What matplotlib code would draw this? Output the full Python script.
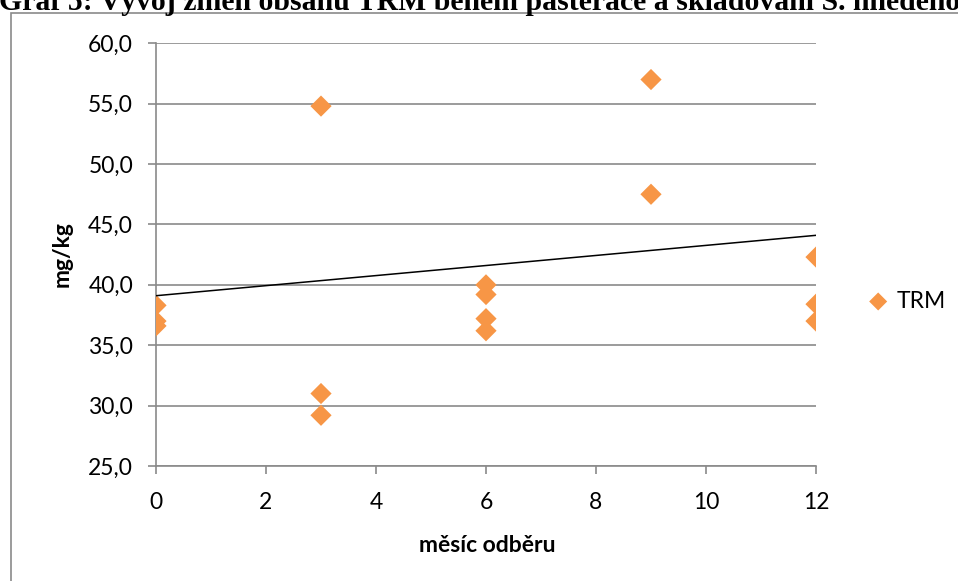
import matplotlib
matplotlib.use("Agg")
import matplotlib.pyplot as plt
from matplotlib.patches import Rectangle
from matplotlib.ticker import FuncFormatter

# ── Data ──────────────────────────────────────────────────────────────────
months = [0, 0, 0, 3, 3, 3, 6, 6, 6, 6, 9, 9, 12, 12, 12]
trm = [38.3, 37.0, 36.6, 54.8, 31.0, 29.2, 40.0, 39.2, 37.2, 36.2,
       57.0, 47.5, 42.3, 38.4, 37.0]
trend_x = [0, 12]
trend_y = [39.1, 44.1]

TITLE = "Graf 5: Vývoj změn obsahu TRM během pasterace a skladování S. hnědého"
ORANGE = "#F79646"
GRID = "#8A8A8A"

plt.rcParams["font.family"] = ["Lato", "DejaVu Sans"]

W, H = 958, 581
fig = plt.figure(figsize=(W / 100, H / 100), dpi=100)
ax = fig.add_axes([156 / W, 1 - 466 / H, 660 / W, (466 - 43.3) / H])

ax.scatter(months, trm, marker="D", s=10.8 ** 2, color=ORANGE,
           edgecolors="none", zorder=3, label="TRM")
ax.plot(trend_x, trend_y, color="black", lw=1.1, zorder=4)

ax.set_xlim(0, 12)
ax.set_ylim(25, 60)
ax.set_xticks(range(0, 13, 2))
ax.set_yticks(range(25, 61, 5))
ax.yaxis.set_major_formatter(FuncFormatter(lambda v, p: f"{v:.1f}".replace(".", ",")))
ax.tick_params(labelsize=16.5, color=GRID, length=5.5, width=1.2)
ax.tick_params(axis="y", pad=11)
ax.tick_params(axis="x", pad=13)

ax.grid(axis="y", color=GRID, lw=1.2, zorder=0)
for side in ("top", "right"):
    ax.spines[side].set_visible(False)
for side in ("left", "bottom"):
    ax.spines[side].set_color(GRID)
    ax.spines[side].set_linewidth(1.2)

fig.text(487 / W, 1 - 545 / H, "měsíc odběru", fontsize=16.5,
         fontweight="bold", ha="center", va="center")
fig.text(62 / W, 1 - 254 / H, "mg/kg", fontsize=16.5, fontweight="bold",
         rotation=90, ha="center", va="center")

ax.legend(loc="center left", bbox_to_anchor=(869 / W, 1 - 301 / H),
          bbox_transform=fig.transFigure, frameon=False, fontsize=16.5,
          handlelength=0.8, handletextpad=0.4, borderpad=0, borderaxespad=0,
          markerscale=0.85)

# chart-area border (only left/top visible in the crop)
fig.add_artist(Rectangle((10.5 / W, -0.1), 2, 1.1 - 13 / H,
                         transform=fig.transFigure, fill=False,
                         edgecolor="#8A8A8A", lw=1.2))

# title, cut off at the top edge like in the source
fig.text(-0.001, 1 - 10 / H, TITLE, fontsize=21.4, fontweight="bold",
         family="Liberation Serif", va="baseline", ha="left")

fig.savefig("out.png", dpi=100)
